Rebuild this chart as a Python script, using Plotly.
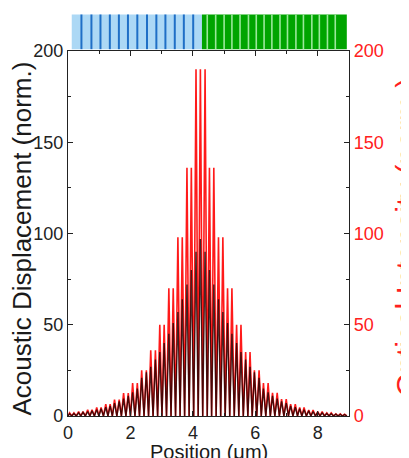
import plotly.graph_objects as go

# ---- data ----
peak_pos = [0.05, 0.19, 0.34, 0.48, 0.63, 0.77, 0.92, 1.06, 1.21, 1.35, 1.49, 1.64, 1.78, 1.93,
            2.07, 2.22, 2.36, 2.51, 2.65, 2.80, 2.94, 3.08, 3.23, 3.37, 3.52, 3.66, 3.81, 3.95,
            4.10, 4.24, 4.39, 4.53, 4.67, 4.82, 4.96, 5.11, 5.25, 5.40, 5.54, 5.69, 5.83, 5.97,
            6.12, 6.26, 6.41, 6.55, 6.70, 6.84, 6.99, 7.13, 7.28, 7.42, 7.56, 7.71, 7.85, 8.00,
            8.14, 8.29, 8.43, 8.58, 8.72, 8.86]
optical = [1.7, 1.7, 2.4, 2.4, 3.4, 3.4, 4.7, 4.7, 6.5, 6.5, 9, 9, 12.5, 12.5, 18, 18, 25, 25,
           36, 36, 50, 50, 70, 70, 98, 98, 136, 136, 190, 190, 190, 136, 136, 98, 98, 70, 70,
           50, 50, 35, 35, 25, 25, 18, 18, 12.7, 12.7, 9.2, 9.2, 6.5, 6.5, 4.7, 4.7, 3.3, 3.3,
           2.4, 2.4, 1.7, 1.7, 1.2, 1.2, 0.9]
acoustic = [1.2, 1.4, 1.7, 2, 2.4, 2.8, 3.4, 4, 4.8, 5.5, 7, 8, 9.5, 11, 13, 15, 21, 24, 27, 31,
            35, 40, 45, 51, 57, 64, 72, 80, 90, 97, 90, 80, 72, 64, 57, 51, 45, 40, 35, 31, 27,
            24, 21, 15, 13, 11, 9.5, 8, 7, 5.5, 4.8, 4, 3.4, 2.8, 2.4, 2, 1.7, 1.4, 1.2, 1.0,
            0.9, 0.8]

# structure strip on top
blue_region = [0.12, 4.29]
green_region = [4.29, 8.93]
blue_lines = [0.43, 0.75, 1.04, 1.34, 1.63, 1.92, 2.22, 2.53, 2.83, 3.12, 3.42, 3.71, 4.01]
green_lines = [4.46, 4.73, 5.00, 5.25, 5.51, 5.78, 6.03, 6.28, 6.53, 6.79, 7.03, 7.30, 7.54,
               7.81, 8.05, 8.31, 8.56]

x_ticks = [0, 2, 4, 6, 8]
y_ticks = [0, 50, 100, 150, 200]


def spikes(pos, h):
    xs, ys = [0.0], [0.0]
    for i, (p, v) in enumerate(zip(pos, h)):
        xs.append(p)
        ys.append(v)
        nxt = pos[i + 1] if i + 1 < len(pos) else 9.0
        xs.append((p + nxt) / 2)
        ys.append(0.0)
    return xs, ys


rx, ry = spikes(peak_pos, optical)
bx, by = spikes(peak_pos, acoustic)

FONT = "Liberation Sans, Arial, sans-serif"
RED = "#ff2020"

fig = go.Figure()
fig.add_trace(go.Scatter(x=rx, y=ry, mode="lines", line=dict(color="#ff1a1a", width=1.6),
                         showlegend=False, hoverinfo="skip"))
fig.add_trace(go.Scatter(x=bx, y=by, mode="lines", line=dict(color="rgba(20,0,0,0.78)", width=1.4),
                         showlegend=False, hoverinfo="skip"))
fig.add_trace(go.Scatter(x=[None], y=[None], yaxis="y2", showlegend=False, hoverinfo="skip"))

shapes = []
shapes.append(dict(type="rect", xref="x", yref="paper", x0=blue_region[0], x1=blue_region[1],
                   y0=1.005, y1=1.10, fillcolor="#acd8f5", line=dict(width=0), layer="above"))
shapes.append(dict(type="rect", xref="x", yref="paper", x0=green_region[0], x1=green_region[1],
                   y0=1.005, y1=1.10, fillcolor="#00a400", line=dict(width=0), layer="above"))
for b in blue_lines:
    shapes.append(dict(type="line", xref="x", yref="paper", x0=b, x1=b, y0=1.005, y1=1.10,
                       line=dict(color="#1f6fc6", width=2), layer="above"))
for g in green_lines:
    shapes.append(dict(type="line", xref="x", yref="paper", x0=g, x1=g, y0=1.005, y1=1.10,
                       line=dict(color="#9be89b", width=1.6), layer="above"))

annotations = [
    dict(text="Acoustic Displacement (norm.)", xref="paper", yref="paper", x=-0.165, y=0.485,
         xanchor="center", yanchor="middle", textangle=-90, showarrow=False,
         font=dict(family=FONT, size=26, color="#1a1a1a")),
    dict(text="Optical Intensity (norm.)", xref="paper", yref="paper", x=1.203, y=0.49,
         xanchor="center", yanchor="middle", textangle=-90, showarrow=False,
         font=dict(family=FONT, size=30, color=RED)),
    dict(text="Position (μm)", xref="paper", yref="paper", x=0.5, y=-0.062,
         xanchor="center", yanchor="top", showarrow=False,
         font=dict(family=FONT, size=20, color="#1a1a1a")),
]

# the page body has an 8px margin: size the figure so the plot area lands where the reference has it
fig.update_layout(
    width=401, height=450,
    margin=dict(l=60, r=60, t=43, b=42, autoexpand=False),
    paper_bgcolor="white", plot_bgcolor="white",
    shapes=shapes, annotations=annotations,
    xaxis=dict(range=[0, 9], tickvals=x_ticks, ticks="inside", ticklen=5, tickwidth=1,
               tickcolor="#222", showline=True, linecolor="#222", linewidth=1.2,
               mirror="ticks", showgrid=False, zeroline=False,
               tickfont=dict(family=FONT, size=18, color="#222"),
               minor=dict(dtick=1, ticks="inside", ticklen=3, tickcolor="#222")),
    yaxis=dict(range=[0, 200], tickvals=y_ticks, ticks="inside", ticklen=5, tickwidth=1,
               tickcolor="#222", showline=True, linecolor="#222", linewidth=1.2,
               showgrid=False, zeroline=False,
               tickfont=dict(family=FONT, size=18, color="#222"),
               minor=dict(dtick=25, ticks="inside", ticklen=3, tickcolor="#222")),
    yaxis2=dict(range=[0, 200], tickvals=y_ticks, overlaying="y", side="right",
                ticks="inside", ticklen=5, tickwidth=1, tickcolor="#222",
                showline=True, linecolor="#222", linewidth=1.2,
                showgrid=False, zeroline=False,
                tickfont=dict(family=FONT, size=18, color=RED),
                minor=dict(dtick=25, ticks="inside", ticklen=3, tickcolor="#222")),
)

fig.write_html("out.html")
